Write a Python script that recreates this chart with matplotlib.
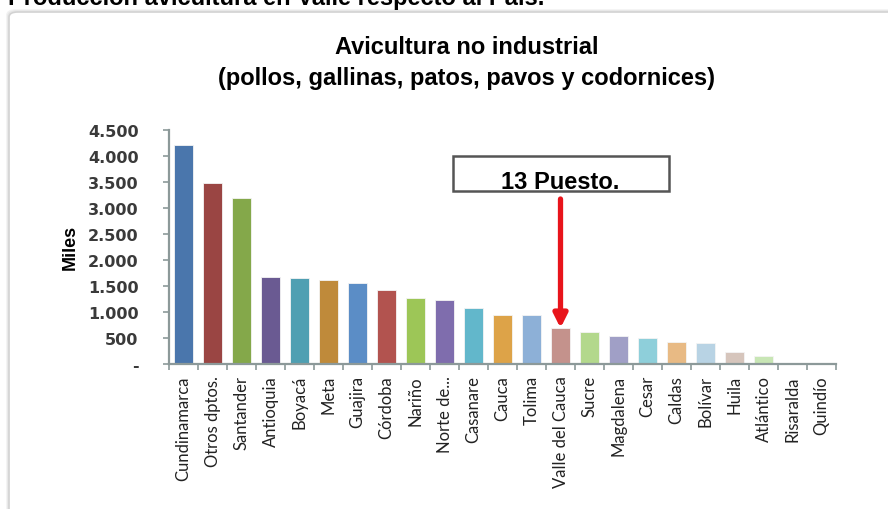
import matplotlib
matplotlib.use("Agg")
import matplotlib.pyplot as plt
from matplotlib.patches import FancyBboxPatch, Rectangle

categories = ["Cundinamarca", "Otros dptos.", "Santander", "Antioquia", "Boyacá", "Meta",
              "Guajira", "Córdoba", "Nariño", "Norte de...", "Casanare", "Cauca", "Tolima",
              "Valle del Cauca", "Sucre", "Magdalena", "Cesar", "Caldas", "Bolívar", "Huila",
              "Atlántico", "Risaralda", "Quindío"]
values = [4200, 3470, 3190, 1680, 1650, 1610, 1560, 1420, 1260, 1225, 1085, 950, 950,
          690, 620, 530, 505, 430, 405, 225, 150, 15, 10]
bar_colors = ["#4A76AC", "#9A4543", "#84A84A", "#6A5A92", "#4F9FB2", "#BF8A3A",
              "#5B8DC6", "#B2534F", "#9DC657", "#7F6DAD", "#62B7CB", "#DDA348",
              "#8DB0D7", "#C4928C", "#B3D88C", "#A09FC6", "#8ECFDA", "#E8BA84",
              "#B8D3E4", "#D6C5BC", "#C8E6B5", "#D8D2E6", "#C8E8EE"]
yticks = [0, 500, 1000, 1500, 2000, 2500, 3000, 3500, 4000, 4500]
ytick_labels = ["-", "500", "1.000", "1.500", "2.000", "2.500", "3.000", "3.500", "4.000", "4.500"]
highlight = "Valle del Cauca"
annotation = "13 Puesto."
title_line1 = "Avicultura no industrial"
title_line2 = "(pollos, gallinas, patos, pavos y codornices)"
page_title = "Producción avicultura en Valle respecto al País."

W, H = 888, 510
fig = plt.figure(figsize=(W / 100, H / 100), dpi=100)
fig.patch.set_facecolor("white")

def fx(px):
    return px / W

def fy(py):
    return 1 - py / H

# outer frame with soft shadow
for i, c in enumerate(["#f2f2f2", "#e6e6e6", "#d2d2d2"]):
    off = 3 - i
    fig.add_artist(FancyBboxPatch((fx(10 - off), fy(560)), fx(950), fy(14 - off) - fy(560),
                                  boxstyle="round,pad=0,rounding_size=0.01",
                                  transform=fig.transFigure, facecolor="none",
                                  edgecolor=c, linewidth=1.2, zorder=0))

# cut-off page title at the very top
fig.text(fx(8), fy(5), page_title, fontsize=17, fontweight="bold",
         family="Liberation Sans", ha="left", va="baseline", color="black")

ax = fig.add_axes([fx(169), fy(365), fx(836) - fx(169), fy(130.7) - fy(365)])
x = list(range(len(categories)))
ax.bar(x, values, width=0.66, color=bar_colors, edgecolor="#f4f4f4", linewidth=0.6, zorder=2)
ax.set_xlim(-0.5, len(categories) - 0.5)
ax.set_ylim(0, 4500)

spine_c = "#8C9999"
for s in ["top", "right"]:
    ax.spines[s].set_visible(False)
for s in ["left", "bottom"]:
    ax.spines[s].set_color(spine_c)
    ax.spines[s].set_linewidth(1.6)

ax.set_yticks(yticks)
ax.set_yticklabels(ytick_labels, fontsize=11.5, family="DejaVu Sans", fontweight="bold",
                   color="#3a3a3a")
ax.tick_params(axis="y", direction="out", length=4, width=1.2, color=spine_c, pad=18)

ax.set_xticks(x)
ax.set_xticklabels(categories, rotation=90, fontsize=12, family="Lato", color="#222222")
ax.tick_params(axis="x", which="major", length=0, pad=8)
ax.set_xticks([i - 0.5 for i in range(len(categories) + 1)], minor=True)
ax.tick_params(axis="x", which="minor", direction="out", length=4, width=1.2, color=spine_c)

fig.text(fx(70), fy(247), "Miles", rotation=90, fontsize=13, fontweight="bold",
         family="Liberation Sans", ha="center", va="center")

fig.text(fx(467), fy(47), title_line1, fontsize=17, fontweight="bold",
         family="Liberation Sans", ha="center", va="center")
fig.text(fx(466), fy(79), title_line2, fontsize=17, fontweight="bold",
         family="Liberation Sans", ha="center", va="center")

# annotation box
fig.add_artist(Rectangle((fx(453), fy(192)), fx(669) - fx(453), fy(157) - fy(192),
                         transform=fig.transFigure, facecolor="white",
                         edgecolor="#555555", linewidth=1.8))
hi = categories.index(highlight)
xb = ax.transData.transform((hi, 0))[0] / W
fig.text(xb, fy(189), annotation, fontsize=17, fontweight="bold",
         family="Liberation Sans", ha="center", va="baseline")
ax.annotate("", xy=(hi, values[hi]), xycoords="data",
            xytext=(xb, fy(200)), textcoords="figure fraction",
            arrowprops=dict(arrowstyle="-|>,head_length=0.8,head_width=0.4",
                            color="#E8141B", lw=3.8, shrinkA=0, shrinkB=0),
            zorder=5)

fig.savefig("out.png", dpi=100)
